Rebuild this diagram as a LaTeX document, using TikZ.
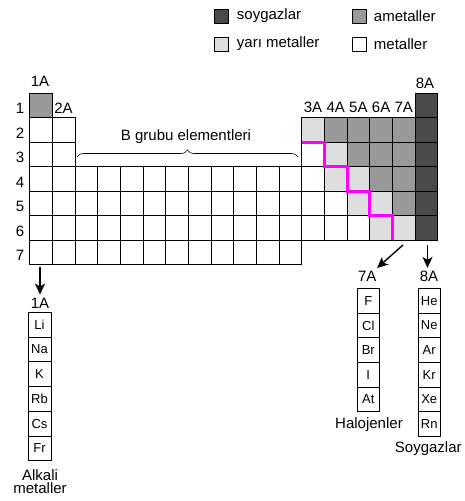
\documentclass[tikz,border=0pt]{standalone}
\usepackage{fontspec}
\setmainfont{Liberation Sans}
\usepackage{xcolor}
\usepackage{tikz}
\usetikzlibrary{calc, positioning, decorations.pathreplacing, arrows.meta}

\definecolor{soygazrenk}{gray}{0.29}
\definecolor{ametalrenk}{gray}{0.60}
\definecolor{yarirenk}{gray}{0.87}
\definecolor{sinirrenk}{RGB}{255,0,255}

\tikzset{
    hucre/.style={draw, line width=0.8pt},
    lejant/.style={draw, line width=0.8pt, minimum size=14pt, inner sep=0pt},
    yazi/.style={font=\fontsize{15}{13.5}\selectfont},
    kutu/.style={draw, line width=0.8pt, minimum width=22.5pt, minimum height=24.7pt,
                 inner sep=0pt, outer sep=0pt, font=\fontsize{13}{15}\selectfont},
    ok/.style={->, line width=1.4pt},
}

\begin{document}
\begin{tikzpicture}[>={Stealth[length=11pt, width=10pt, inset=3pt]}, x=1pt, y=-1pt]
    \useasboundingbox (0,0) rectangle (465,501);

    % =================================================================
    % 1. LEJANT
    % =================================================================
    \node[lejant, fill=soygazrenk] (soygazkare) at (221,16) {};
    \node[yazi, right=5pt of soygazkare] (soygazyazi) {soygazlar};
    \node[lejant, fill=ametalrenk] (ametalkare) at (359,16) {};
    \node[yazi, right=4pt of ametalkare] (ametalyazi) {ametaller};
    \node[lejant, fill=yarirenk] (yarikare) at (221,44) {};
    \node[yazi, right=5pt of yarikare] (yariyazi) {yarı metaller};
    \node[lejant] (metalkare) at (359,44) {};
    \node[yazi, right=4pt of metalkare] (metalyazi) {metaller};

    % =================================================================
    % 2. PERİYODİK TABLO HÜCRELERİ
    % =================================================================
    \begin{scope}[shift={(29.7,93.3)}, x=22.67pt, y=-24.5pt]
        % metaller (beyaz)
        \foreach \r/\son in {4/13, 5/14, 6/15, 7/12}
            \foreach \c in {1,...,\son}
                \draw[hucre] (\c-1,\r-1) rectangle (\c,\r);
        \foreach \r in {2,3}
            \foreach \c in {1,2}
                \draw[hucre] (\c-1,\r-1) rectangle (\c,\r);
        \draw[hucre] (12,2) rectangle (13,3);

        % yarı metaller
        \foreach \c/\r in {13/2, 14/3, 14/4, 15/4, 15/5, 16/5, 16/6, 17/6}
            \draw[hucre, fill=yarirenk] (\c-1,\r-1) rectangle (\c,\r);

        % ametaller
        \foreach \c/\r in {1/1, 14/2, 15/2, 16/2, 17/2, 15/3, 16/3, 17/3, 16/4, 17/4, 17/5}
            \draw[hucre, fill=ametalrenk] (\c-1,\r-1) rectangle (\c,\r);

        % soygazlar
        \foreach \r in {1,...,6}
            \draw[hucre, fill=soygazrenk] (17,\r-1) rectangle (18,\r);

        % metal / ametal sınırı
        \draw[sinirrenk, line width=3pt] (12,2) -- (13,2) -- (13,3) -- (14,3)
            -- (14,4) -- (15,4) -- (15,5) -- (16,5) -- (16,6);
    \end{scope}

    % =================================================================
    % 3. PERİYOT VE GRUP ETİKETLERİ
    % =================================================================
    \foreach \r in {1,...,7}
        \node[yazi] (periyot\r) at (20, {93.3+(\r-0.5)*24.5+3}) {\r};

    \node[yazi] (ust1A) at (40,81) {1A};
    \node[yazi] (ust2A) at (63.5,108) {2A};
    \foreach \g [count=\i from 13] in {3A,4A,5A,6A,7A}
        \node[yazi] (ust\g) at ({29.7+(\i-0.5)*22.67},107.5) {\g};
    \node[yazi] (ust8A) at (425,83) {8A};

    \draw[decorate, decoration={brace, amplitude=7pt}, line width=0.6pt] (77,157) -- (298,157);
    \node[yazi, anchor=base] (bgrubu) at (186,140) {B grubu elementleri};

    % =================================================================
    % 4. OKLAR VE GRUPLAR
    % =================================================================
    \coordinate (ok1bas) at (40,267);
    \coordinate (ok7bas) at (403,245);
    \coordinate (ok8bas) at (427.5,245);

    \node[yazi] (alt1A) at (40,303.3) {1A};
    \node[yazi] (alt7A) at (367.3,276.7) {7A};
    \node[yazi] (alt8A) at (429,276.7) {8A};

    \draw[ok] (ok1bas) -- (alt1A);
    \draw[ok] (ok7bas) -- (alt7A);
    \draw[ok] (ok8bas) -- (ok8bas |- alt8A.north);

    % alkali metaller
    \node[kutu, minimum width=23pt] (Li) at (39.5,324.8) {Li};
    \foreach \e [remember=\e as \onceki (initially Li)] in {Na,K,Rb,Cs,Fr}
        \node[kutu, minimum width=23pt, below=0pt of \onceki] (\e) {\e};
    \node[yazi, align=center] (alkali) at (40,481.5) {Alkali\\metaller};

    % halojenler
    \node[kutu] (F) at (368.3,300.7) {F};
    \foreach \e [remember=\e as \onceki (initially F)] in {Cl,Br,I,At}
        \node[kutu, below=0pt of \onceki] (\e) {\e};
    \node[yazi] (halojen) at (369,425) {Halojenler};

    % soygazlar
    \node[kutu] (He) at (429.2,300.7) {He};
    \foreach \e [remember=\e as \onceki (initially He)] in {Ne,Ar,Kr,Xe,Rn}
        \node[kutu, below=0pt of \onceki] (\e) {\e};
    \node[yazi] (soygaz) at (428.3,448.3) {Soygazlar};

\end{tikzpicture}
\end{document}
